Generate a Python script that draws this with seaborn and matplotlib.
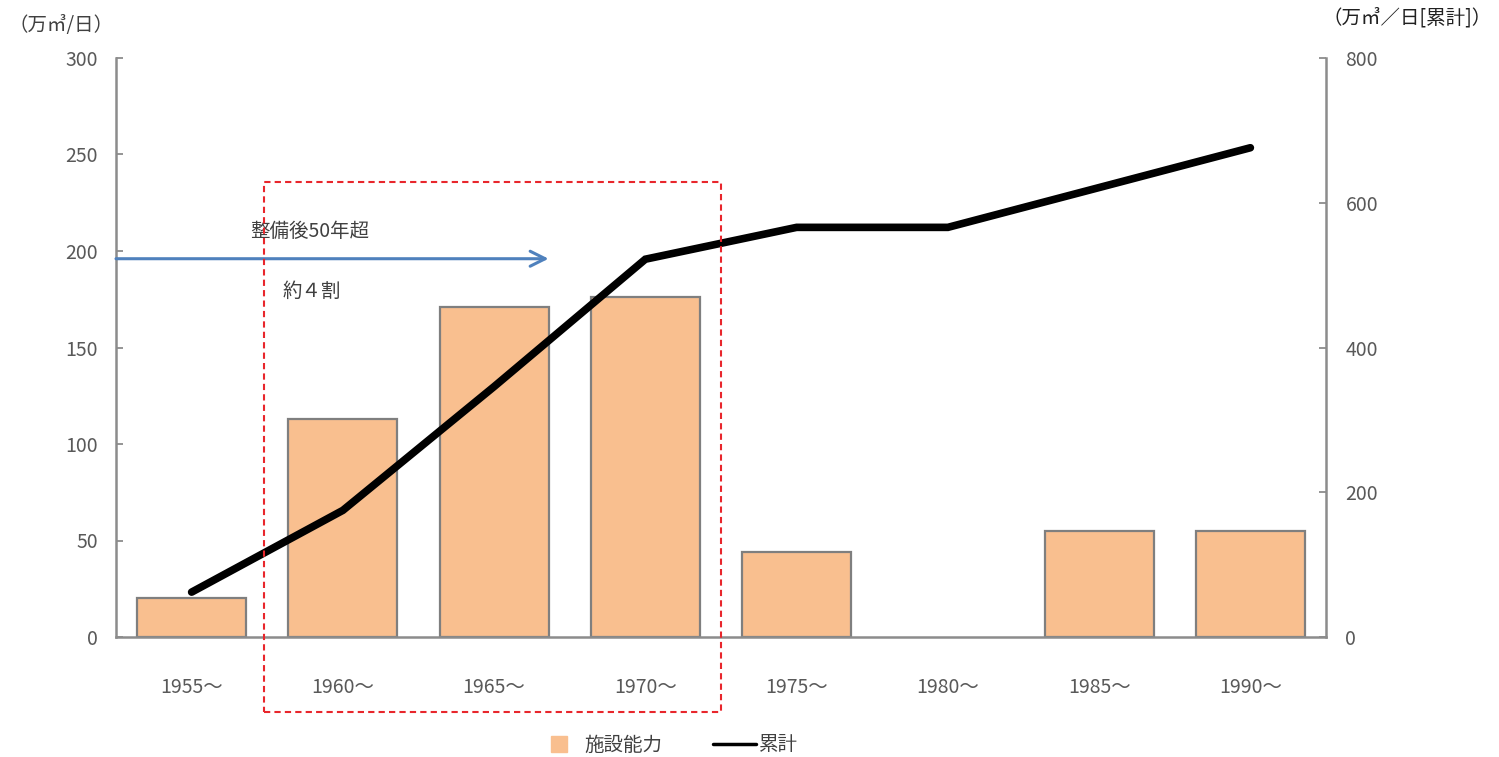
import matplotlib
matplotlib.use("Agg")
import matplotlib.pyplot as plt
import seaborn as sns
import numpy as np
import pandas as pd
from matplotlib.patches import Rectangle
from matplotlib.lines import Line2D

# Data
periods = ["1955～", "1960～", "1965～", "1970～", "1975～", "1980～", "1985～", "1990～"]
capacity = [20, 113, 171, 176, 44, 0, 55, 55]          # 施設能力 (万㎥/日)
cumulative = [62, 175, 346, 522, 566, 566, 621, 676]   # 累計 (万㎥/日)
left_ticks = [0, 50, 100, 150, 200, 250, 300]
right_ticks = [0, 200, 400, 600, 800]

sns.set_theme(style="white")
plt.rcParams["font.family"] = ["Noto Sans CJK JP", "DejaVu Sans"]

BAR_COLOR = "#F9BF8F"
BAR_EDGE = "#7F7F7F"
AXIS_COLOR = "#8C8C8C"
TEXT_COLOR = "#595959"

fig = plt.figure(figsize=(14.99, 7.57), dpi=100)
ax = fig.add_axes([116 / 1499, 1 - 637 / 757, (1326 - 116) / 1499, (637 - 58) / 757])

df = pd.DataFrame({"period": periods, "capacity": capacity, "cumulative": cumulative})
sns.barplot(data=df, x="period", y="capacity", color=BAR_COLOR, edgecolor=BAR_EDGE,
            linewidth=1.6, width=0.72, saturation=1, ax=ax)
# empty periods get no outline
for patch in ax.patches:
    if patch.get_height() == 0:
        patch.set_edgecolor("none")
ax.set_xlim(-0.5, len(periods) - 0.5)
ax.set_ylim(0, 300)
ax.set_yticks(left_ticks)
ax.set_xlabel("")
ax.set_ylabel("")

# Category boundary ticks on the x axis
ax.set_xticks(np.arange(len(periods)))
ax.set_xticklabels(periods)
ax.set_xticks(np.arange(len(periods) + 1) - 0.5, minor=True)
ax.tick_params(axis="x", which="major", length=0, pad=29, labelsize=14, labelcolor=TEXT_COLOR)
ax.tick_params(axis="x", which="minor", direction="in", length=5, width=1.3, color=AXIS_COLOR)
ax.tick_params(axis="y", direction="in", length=5, width=1.3, color=AXIS_COLOR,
               pad=13, labelsize=14, labelcolor=TEXT_COLOR)

for side in ["left", "bottom"]:
    ax.spines[side].set_color(AXIS_COLOR)
    ax.spines[side].set_linewidth(1.8)
for side in ["top", "right"]:
    ax.spines[side].set_visible(False)

# Cumulative line on the secondary axis
ax2 = ax.twinx()
line_df = pd.DataFrame({"pos": np.arange(len(periods)), "cumulative": cumulative})
sns.lineplot(data=line_df, x="pos", y="cumulative", color="black", linewidth=5.5,
             solid_capstyle="round", solid_joinstyle="miter", ax=ax2)
ax2.set_xlim(-0.5, len(periods) - 0.5)
ax2.set_ylim(0, 800)
ax2.set_yticks(right_ticks)
ax2.set_ylabel("")
ax2.tick_params(axis="y", direction="in", length=5, width=1.3, color=AXIS_COLOR,
                pad=14, labelsize=14, labelcolor=TEXT_COLOR)
ax2.spines["right"].set_color(AXIS_COLOR)
ax2.spines["right"].set_linewidth(1.8)
for side in ["top", "left", "bottom"]:
    ax2.spines[side].set_visible(False)

# Dashed frame around the 1960–1970 periods, reaching below the axis
frame = Rectangle((0.48, -39), 3.02, 275, fill=False, edgecolor="#E8262C",
                  linestyle=(0, (3, 2)), linewidth=1.5, clip_on=False, zorder=10)
ax2.add_patch(frame)
frame.set_transform(ax.transData)

# Arrow marking facilities older than 50 years
ax.annotate("", xy=(2.36, 196), xytext=(-0.5, 196),
            arrowprops=dict(arrowstyle="->,head_length=0.9,head_width=0.45",
                            color="#4F81BD", lw=2.2, shrinkA=0, shrinkB=0),
            annotation_clip=False)
ax.text(0.78, 210, "整備後50年超", fontsize=14, color="#404040", ha="center", va="center")
ax.text(0.6, 179, "約４割", fontsize=14, color="#404040", ha="left", va="center")

# Axis unit labels
fig.text(8 / 1499, 1 - 25 / 757, "（万㎥/日）", fontsize=14, color="#404040",
         ha="left", va="center")
fig.text(1492 / 1499, 1 - 18 / 757, "（万㎥／日[累計]）", fontsize=14, color="#202020",
         ha="right", va="center")

# Legend
handles = [
    Line2D([], [], marker="s", linestyle="none", markersize=12,
           markerfacecolor=BAR_COLOR, markeredgecolor=BAR_COLOR),
    Line2D([], [], color="black", linewidth=2.5),
]
fig.legend(handles, ["施設能力", "累計"], loc="center", bbox_to_anchor=(668 / 1499, 1 - 745 / 757),
           ncol=2, frameon=False, fontsize=14, handlelength=2.2, handletextpad=0.2,
           columnspacing=2.6, labelcolor="#404040")

fig.savefig("out.png", dpi=100)
